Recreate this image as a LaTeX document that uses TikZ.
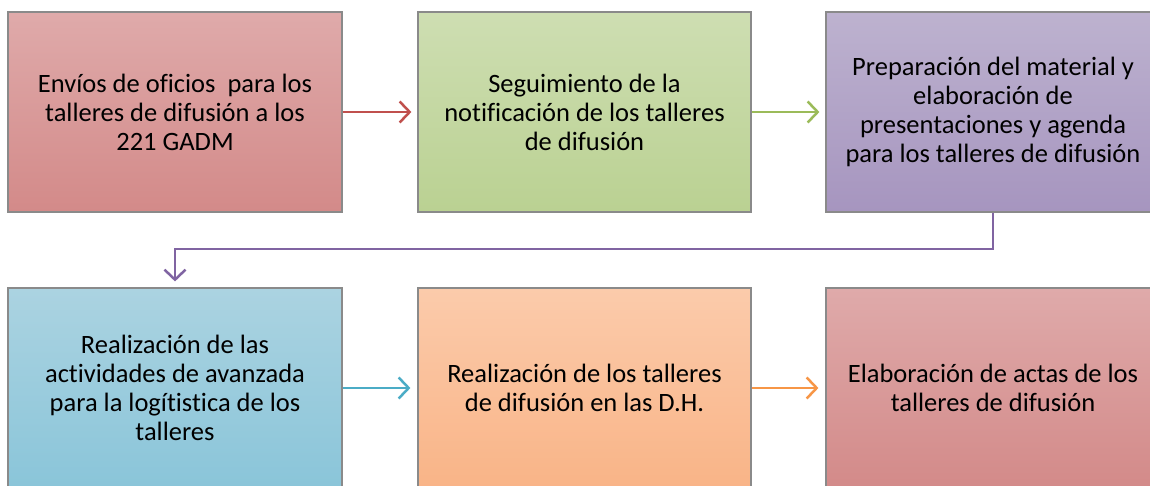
\documentclass[tikz,border=0pt]{standalone}
\usepackage{fontspec}
\setmainfont[Ligatures=NoCommon]{Carlito}
\usetikzlibrary{arrows.meta}
\definecolor{bordergray}{HTML}{8A8A8A}
\definecolor{redline}{HTML}{C0504D}
\definecolor{greenline}{HTML}{9BBB59}
\definecolor{purpleline}{HTML}{8064A2}
\definecolor{blueline}{HTML}{4BACC6}
\definecolor{orangeline}{HTML}{F79646}
\definecolor{redtop}{HTML}{DFAAAA}
\definecolor{redbot}{HTML}{D38A89}
\definecolor{greentop}{HTML}{CEDEB2}
\definecolor{greenbot}{HTML}{BAD192}
\definecolor{purpletop}{HTML}{BDB2CF}
\definecolor{purplebot}{HTML}{A695BF}
\definecolor{bluetop}{HTML}{ABD3E1}
\definecolor{bluebot}{HTML}{8AC5D9}
\definecolor{orangetop}{HTML}{FBCBAB}
\definecolor{orangebot}{HTML}{F9B487}
\tikzset{
  stepbox/.style={draw=bordergray, line width=1.2pt, rectangle,
    minimum width=334pt, minimum height=200pt, inner sep=0pt,
    align=center, font=\fontsize{26.5}{29}\selectfont, text=black},
  conn/.style={line width=2.5pt, -{Straight Barb[length=10pt,width=21pt,line width=2.5pt]}},
}
\begin{document}
\begin{tikzpicture}[x=1pt,y=-1pt]
\useasboundingbox (0,0) rectangle (1150,485);
\clip (0,0) rectangle (1150,485);
\fill[white] (0,0) rectangle (1150,485);
\node[stepbox, top color=redtop, bottom color=redbot] (b1) at (175,112)
  {Envíos de oficios\ \ para los\\talleres de difusión a los\\221 GADM};
\node[stepbox, minimum width=333pt, top color=greentop, bottom color=greenbot] (b2) at (584.5,112)
  {Seguimiento de la\\notificación de los talleres\\de difusión};
\node[stepbox, top color=purpletop, bottom color=purplebot] (b3) at (993,112)
  {Preparación del material y\\elaboración de\\presentaciones y agenda\\para los talleres de difusión};
\node[stepbox, top color=bluetop, bottom color=bluebot] (b4) at (175,388)
  {Realización de las\\actividades de avanzada\\para la logítistica de los\\talleres};
\node[stepbox, minimum width=333pt, top color=orangetop, bottom color=orangebot] (b5) at (584.5,388)
  {Realización de los talleres\\de difusión en las D.H.};
\node[stepbox, top color=redtop, bottom color=redbot] (b6) at (993,388)
  {Elaboración de actas de los\\talleres de difusión};
\draw[conn, redline, shorten >=6pt] (b1) -- (b2);
\draw[conn, greenline, shorten >=6pt] (b2) -- (b3);
\coordinate (turn) at (993,249);
\draw[conn, purpleline, shorten >=6pt] (b3.south) -- (turn) -| (b4.north);
\draw[conn, blueline, shorten >=7pt] (b4) -- (b5);
\draw[conn, orangeline, shorten >=7pt] (b5) -- (b6);
\end{tikzpicture}
\end{document}
